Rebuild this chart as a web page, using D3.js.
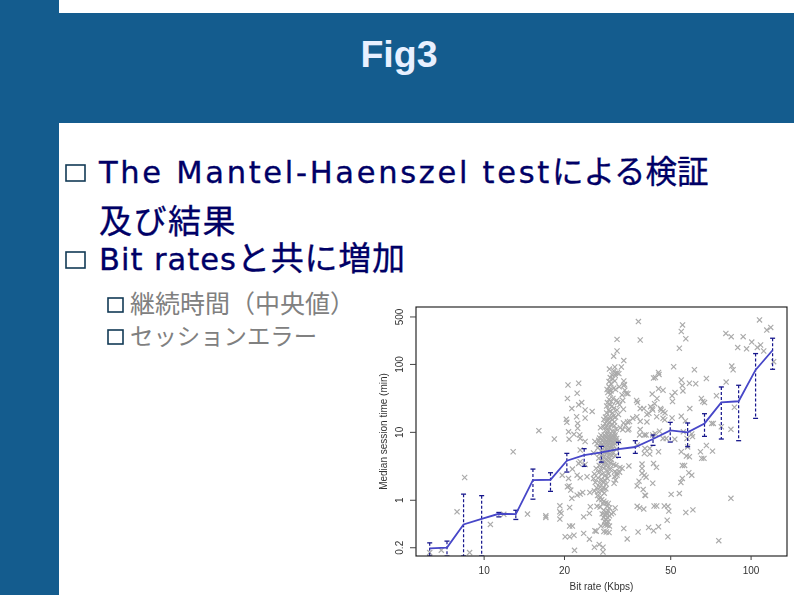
<!DOCTYPE html>
<html><head><meta charset="utf-8">
<script src="https://cdn.jsdelivr.net/npm/d3@7"></script>
<style>html,body{margin:0;padding:0;background:#fff}svg{display:block}</style>
</head><body><svg id="c" width="794" height="595"></svg>
<script>
const title = "Fig3";
const bullets = [
  {parts:["The Mantel-Haenszel test","による検証"]},
  {parts:["","及び結果"]},
  {parts:["Bit rates","と共に増加"]}
];
const subBullets = ["継続時間（中央値）","セッションエラー"];
const xTicks = [10,20,50,100];
const yTicks = [0.2,1,10,100,500];
const xLabel = "Bit rate (Kbps)";
const yLabel = "Median session time (min)";

const rates  = [6.28,7.29,8.41,9.83,11.4,13.2,15.3,17.8,20.5,23.8,27.6,32,37,43.1,50,58.1,67.2,77.7,90.2,104.4,120.9];
const median = [0.192,0.198,0.433,0.525,0.622,0.615,1.95,1.97,3.76,4.55,4.99,5.58,5.98,7.84,10.5,9.83,13.3,27.2,28.2,81.6,159];
const upper  = [0.232,0.246,1.21,1.15,0.65,0.70,2.83,2.5,4.82,5.65,6.11,7,7.41,8.98,13.8,13.5,18.5,45.8,48.5,142,239];
const lower  = [0.148,0.148,0.148,0.148,0.56,0.513,1.02,1.33,2.56,3.1,3.59,4.21,4.82,6.32,7.08,6.04,8.58,7.84,7.41,15.8,83.4];

const scatterLow = [[6.28,.167],[6.94,.181],[7.95,.665],[8.49,2.13],[8.86,.167],[10.6,.433],[12.9,5.1],[14.6,.615],[16.1,10.4],[11.9,.61],[17.1,.58],[17.1,.55],[18.4,7.84]];
const scatterLeft = [[19.3,.815],[19.3,.665],[19.5,.63],[19.3,.52],[19.7,2.3],[20.4,15.3],[20.5,13.8],[20.7,49],[20.6,31],[20.9,7.8],[20.8,10],[20.2,.285],[21,.285],[21.8,.3],[21,.41],[21.5,.41],[21,.77],[21.4,1.05],[20.9,1.6],[20.6,1.55],[21.2,1.39],[20.8,2.06],[21.5,2.83],[21.4,22],[21.8,9.2],[22.3,16.7],[22.5,13.3],[22.7,52],[22.4,37],[22.7,25],[23.3,27],[22.9,9],[23,8],[22.5,11.3],[23,5.4],[22.7,3.43],[22.4,2.3],[23,2.1],[24.4,2.18],[22.4,1.17],[23,1.21],[23.5,1.28],[25,1.28],[25.1,.79],[23.7,.56],[24.9,.63],[23.7,.32],[24.9,.263],[21.9,.18],[24,21],[24,16],[25.5,20],[24,7.2],[23,3.63],[24,3.31]];
const scatterColumn = [[29.6,84],[30.7,79],[31.2,73],[31.7,74],[31.1,68],[32.1,72],[30.2,69],[29.8,63],[30.5,60],[31,56],[29.5,55],[30,51],[29.5,46],[29,42],[29.6,41],[30,40],[29.2,38],[29.9,36],[30.7,44],[31.2,42],[32.2,46],[33.5,48],[33.8,41],[33,35],[34.2,37],[34.7,36.5],[33.2,29],[31.5,29],[30.5,31],[30.1,28],[29.5,30],[29.1,27],[28.9,24],[29.7,25],[30.3,24],[31.8,27],[32.3,25],[31.6,21],[30.7,22],[29.4,21],[28.9,19],[29.7,20],[30.4,19],[33.4,21.5],[32,18],[31.2,16.5],[30.6,17],[29.9,16.2],[29.3,16],[28.6,16.5],[28.2,15.2],[29,14.5],[29.7,14],[30.3,15],[30.9,14],[28.5,13.2],[29.3,13],[30.1,12.7],[30.9,12.3],[28.1,12],[28.8,11.8],[29.6,11.4],[27.4,11.5],[31.4,11],[32.5,11.5],[33.4,13.5],[34,12.5],[35.2,14.2],[33.2,10.8],[28.6,10.5],[29.4,10.3],[30.3,10.2],[31,9.9],
[27.5,8.9],[28.3,9],[29,9.2],[29.7,9.1],[30.4,8.9],[31.1,9],[27.2,8.1],[28,8.3],[28.7,8.4],[29.4,8.5],[30.1,8.2],[30.8,8.3],[31.5,8],[26.1,7.2],[27,7.5],[27.8,7.6],[28.5,7.7],[29.2,7.8],[29.9,7.6],[30.6,7.7],[31.3,7.4],[32.1,7.2],[26.6,6.7],[27.4,6.9],[28.2,7],[28.9,7.1],[29.6,7],[30.3,6.9],[31,6.7],[27.1,6.3],[27.9,6.4],[28.6,6.5],[29.3,6.4],[30,6.2],[30.7,6.3],[26.8,5.8],[28.3,5.9],[29,5.7],[29.7,5.8],[30.4,5.6],[31.4,5.5],[27.6,5.2],[28.3,5.3],[29.1,5.1],[29.8,5.2],[30.6,5],[25.8,4.9],[27.1,4.7],[28,4.6],[28.8,4.8],[29.5,4.6],[30.2,4.5],[31.1,4.4],
[27,4.1],[28.1,4.2],[28.8,4],[29.4,4.1],[30.1,3.9],[27.6,3.7],[28.5,3.6],[29.2,3.7],[29.9,3.5],[31.3,3.2],[32.4,3],[33,2.9],[27.1,3.2],[28,3.3],[28.7,3.2],[29.5,3.1],[30.7,3.3],[26.4,2.9],[27.4,2.8],[28.2,2.9],[29,2.7],[29.8,2.8],[31,2.6],[31.6,2.5],[32.3,2.55],[26,2.4],[27,2.5],[27.8,2.4],[28.6,2.3],[29.4,2.4],[30.9,2.2],[31.6,2.3],[25.8,2.05],[26.8,2.1],[27.6,2],[28.4,1.95],[29.1,2.05],[31.2,1.95],[26.2,1.8],[27.2,1.75],[28,1.8],[28.8,1.7],[30.8,1.75],[26.5,1.5],[27.3,1.55],[28.1,1.5],[28.7,1.45],[26,1.35],[26.9,1.3],[27.7,1.35],[28.3,1.25],[26.7,1.15],[27.4,1.1],[27,1.02],[27.7,1],[28.2,.95],[28,.88],[28.7,.9],[29.3,.88],[26.6,.8],[27.3,.78],[29,.8],[29.6,.76],[28.2,.7],[28.8,.66],[29.3,.68],[27.8,.62],[28.5,.6],[29,.61],[29.6,.58],[30.1,.62],[30.6,.65],[28.1,.55],[28.7,.52],[29.2,.54],[28.4,.48],[28.8,.46],[29.3,.47],[28.5,.43],[29,.42],[29.6,.41],[27.5,.41],[28.2,.34],[28.8,.335],[29.5,.33],[26.1,.35],[26.4,.345],[27.1,.22],[28,.17],[28,.2],[26,.2],[31.1,.76]];
const scatterMid = [[38,420],[38.6,225],[31.6,230],[31.6,155],[30.7,130],[33.5,112],[31,90],[32.8,90],[33.5,56],[33.7,50],[33.5,.378],[34.5,.265],[37.9,.335],[37.6,.8],[38.4,.76],[39.8,.73],[40.2,1.17],[40.4,1.15],[39.6,1.42],[43,1.75],[37.6,1.6],[38.2,1.88],[39.2,2.45],[40,2.3],[40.6,2.15],[39.2,3.35],[39.2,2.9],[35,3.15],[40,4.8],[41.9,4.7],[43.3,3.43],[44.4,3],[45.2,5.1],[41.9,5.7],[37.4,29],[37.7,27],[38.6,22],[39.8,22],[37.5,16.7],[36.2,15.8],[34.6,14],[35,11],[34.7,10.6],[38.6,10.8],[38.4,9],[38.6,14.3],[40.9,14],[41.6,18.7],[42.2,23.5],[42.8,22],[40.9,18],[43,21],[44.5,16.7],[46,22],[43.7,26],[42.8,36],[44.6,31],[46.2,21],[47,20],[47.8,19],[47,15.8],[47.7,15],[45.2,43],[47,41],[43.3,62],[44,63],[45.2,75],[45.4,70],[40,9],[40.6,9],[43,9],[43.9,9.5],[45.6,10.2],[47,8],[48.3,8],[52,7.8],[37.6,6.4],[40.2,5.7],[41.5,.39],[43.5,.81],[44.5,.81],[43.3,.35],[45.2,.4],[47.5,.81],[49,.8],[49.4,.68],[48.7,.5],[49,.285]];
const scatterRight = [[51.5,91],[61.6,82],[68.3,61],[55.6,375],[55,300],[57.2,235],[54.1,170],[80.8,281],[84.6,252],[93.8,252],[108,445],[115,315],[119,345],[101,210],[89.5,174],[96.6,167],[106,175],[109,190],[112,155],[85,93],[86,82],[122,108],[81,54],[74.5,34],[87,23],[84.4,10.9],[84.4,1.05],[76,.25],[72,5.2],[68.3,6.3],[66.9,4.07],[65.4,31],[66.2,28],[67.2,27],[71.5,13.3],[72.5,13.3],[77.7,11.9],[64.9,5.1],[65.6,4.07],[60.6,8.5],[60.2,9.3],[59,52],[62.3,51],[55,58],[55.5,48],[55.8,40],[59.2,22],[50.8,34],[52.1,38],[51,28],[50.8,16],[55,17],[57,14.5],[55,5.1],[58.1,6],[57.5,4.4],[59,4.3],[55.5,3.2],[56.6,3.2],[58.7,2.5],[60.2,2.3],[55.5,2.06],[54.8,1.8],[54.1,1.24],[50.4,1.2],[60.8,.71],[57.2,.65],[56,10],[57.8,8]];
const scatter = [...scatterLow,...scatterLeft,...scatterColumn,...scatterMid,...scatterRight];

const svg = d3.select("#c");
const navy="#000066", band="#145c8e";
const soft=svg.append("filter").attr("id","soft").attr("filterUnits","userSpaceOnUse").attr("x",370).attr("y",295).attr("width",424).attr("height",300);
soft.append("feGaussianBlur").attr("stdDeviation",0.4);
svg.append("rect").attr("x",0).attr("y",0).attr("width",59).attr("height",595).attr("fill",band);
svg.append("rect").attr("x",59).attr("y",13).attr("width",735).attr("height",110).attr("fill",band);
svg.append("text").text(title).attr("x",399).attr("y",67).attr("text-anchor","middle")
  .attr("font-family","Liberation Sans").attr("font-weight","bold").attr("font-size",37.5).attr("fill","#e8f0ff");

const latin="'DejaVu Sans'", cjk="'Noto Sans CJK JP'";
const bulletRows=[{y:183,box:true,jp:31.5,sp:0,ls:2.7},{y:233,box:false,jp:33,sp:1.5,ls:0},{y:270,box:true,jp:33,sp:0.8,ls:1}];
bullets.forEach((b,i)=>{
  const r=bulletRows[i];
  const t=svg.append("text").attr("x",99).attr("y",r.y).attr("fill",navy).attr("stroke",navy).attr("stroke-width",0.35);
  if(b.parts[0]) t.append("tspan").text(b.parts[0]).attr("font-family",latin).attr("font-size",30.5).attr("letter-spacing",r.ls);
  t.append("tspan").text(b.parts[1]).attr("font-family",cjk).attr("font-size",r.jp).attr("letter-spacing",r.sp);
  if(r.box) svg.append("rect").attr("x",66).attr("y",r.y-18).attr("width",19).attr("height",16).attr("fill","none").attr("stroke","#123a55").attr("stroke-width",1.6);
});
subBullets.forEach((s,i)=>{
  const py=[313,345][i];
  svg.append("text").text(s).attr("x",130).attr("y",py).attr("fill","#808080").attr("font-size",[25,23.4][i]).attr("font-family",cjk);
  svg.append("rect").attr("x",108).attr("y",py-15).attr("width",15).attr("height",14).attr("fill","none").attr("stroke","#123a55").attr("stroke-width",1.6);
});

const L=416,R=787,T=307,B=556;
const x=d3.scaleLog().domain([5.58,136.9]).range([L,R]);
const y=d3.scaleLog().domain([0.1486,689]).range([B,T]);
const chart=svg.append("g").attr("filter","url(#soft)");
svg.append("clipPath").attr("id","plot").append("rect").attr("x",L).attr("y",T).attr("width",R-L).attr("height",B-T);
const g=chart.append("g").attr("clip-path","url(#plot)");
const sym=d3.symbol().type(d3.symbolX).size(19);
g.selectAll("path.pt").data(scatter).join("path").attr("class","pt").attr("d",sym)
  .attr("transform",d=>`translate(${x(d[0])},${y(d[1])})`).attr("fill","none").attr("stroke","#aaaaaa").attr("stroke-width",1.15);

const err="#16168c";
rates.forEach((r,i)=>{
  const px=x(r);
  g.append("line").attr("x1",px).attr("x2",px).attr("y1",y(upper[i])).attr("y2",y(lower[i])).attr("stroke",err).attr("stroke-width",1.2).attr("stroke-dasharray","3,2");
  [upper[i],lower[i]].forEach(v=>g.append("line").attr("x1",px-2.5).attr("x2",px+2.5).attr("y1",y(v)).attr("y2",y(v)).attr("stroke",err).attr("stroke-width",1.3));
});
g.append("path").datum(rates.map((r,i)=>[r,median[i]])).attr("fill","none").attr("stroke","#4646c8").attr("stroke-width",1.8)
  .attr("d",d3.line().x(d=>x(d[0])).y(d=>y(d[1])));

chart.append("rect").attr("x",L).attr("y",T).attr("width",R-L).attr("height",B-T).attr("fill","none").attr("stroke","#111").attr("stroke-width",1.1);
const fmt=d=>String(d);
const ax=chart.append("g").attr("transform",`translate(0,${B})`).call(d3.axisBottom(x).tickValues(xTicks).tickFormat(fmt).tickSize(4).tickPadding(7));
const ay=chart.append("g").attr("transform",`translate(${L},0)`).call(d3.axisLeft(y).tickValues(yTicks).tickFormat(fmt).tickSize(6));
[ax,ay].forEach(a=>{a.select(".domain").remove();a.selectAll("line").attr("stroke","#444");a.selectAll("text").attr("font-family","Liberation Sans").attr("font-size",10).attr("fill","#333");});
ay.selectAll("text").attr("transform","translate(-13,0) rotate(-90)").attr("x",0).attr("y",0).attr("dy",0).attr("text-anchor","middle");
chart.append("text").text(xLabel).attr("x",601.5).attr("y",590).attr("text-anchor","middle").attr("font-family","Liberation Sans").attr("font-size",10).attr("fill","#333");
chart.append("text").text(yLabel).attr("transform","translate(387,431.5) rotate(-90)").attr("text-anchor","middle").attr("font-family","Liberation Sans").attr("font-size",10).attr("fill","#333");
</script></body></html>
